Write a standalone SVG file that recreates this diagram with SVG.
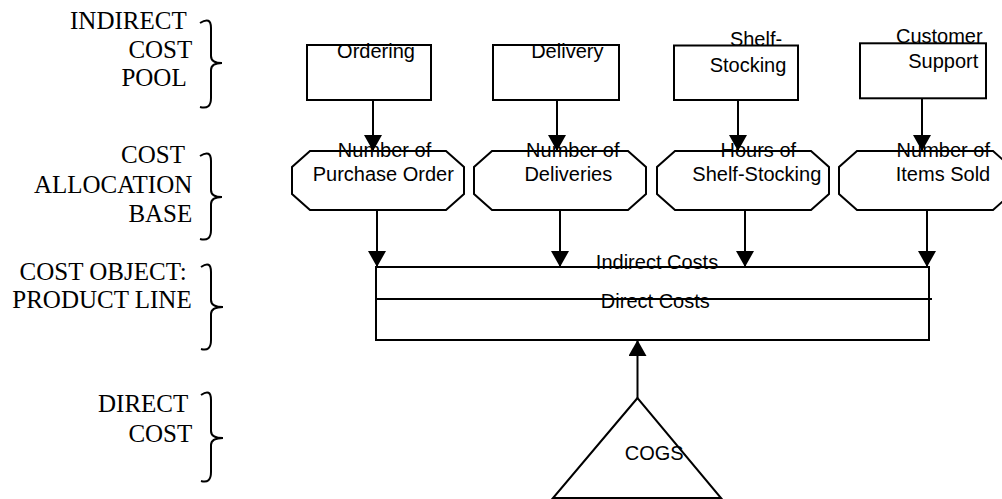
<svg xmlns="http://www.w3.org/2000/svg" width="1002" height="499" viewBox="0 0 1002 499">
<style>
.box{fill:#fff;stroke:#000;stroke-width:2}
.t{font-family:"Liberation Sans",Arial,sans-serif;font-size:20px;fill:#000;text-anchor:middle}
.lab{font-family:"Liberation Serif","Times New Roman",serif;font-size:25px;fill:#000;text-anchor:end}
.brace{fill:none;stroke:#000;stroke-width:2}
.conn{fill:none;stroke:#000;stroke-width:2}
</style>
<defs>
<marker id="arr" viewBox="0 0 16 18" refX="16" refY="9" markerWidth="16" markerHeight="18" markerUnits="userSpaceOnUse" orient="auto">
<path d="M0,0 L16,9 L0,18 Z" fill="#000"/>
</marker>
</defs>
<rect width="1002" height="499" fill="#fff"/>

<g id="labels">
<text class="lab" x="186.7" y="29.3">INDIRECT</text>
<text class="lab" x="192.3" y="58.3">COST</text>
<text class="lab" x="186.7" y="86">POOL</text>
<text class="lab" x="185" y="163.3">COST</text>
<text class="lab" x="192.3" y="193.3">ALLOCATION</text>
<text class="lab" x="192.3" y="221.7">BASE</text>
<text class="lab" x="186.7" y="280">COST OBJECT:</text>
<text class="lab" x="191.7" y="308.3">PRODUCT LINE</text>
<text class="lab" x="188.3" y="411.7">DIRECT</text>
<text class="lab" x="192.3" y="441.7">COST</text>
<path class="brace" d="M200,23 Q211,16 211,28 L211,56 Q211,63 222,63 Q211,63 211,70 L211,98 Q211,110 200,107"/>
<path class="brace" d="M200,156 Q211,149 211,161 L211,190 Q211,197 222,197 Q211,197 211,204 L211,230 Q211,242 200,239"/>
<path class="brace" d="M201,267 Q211,260 211,272 L211,300 Q211,307 223,307 Q211,307 211,314 L211,340 Q211,352 201,349"/>
<path class="brace" d="M201,395 Q211,388 211,400 L211,431 Q211,438 223,438 Q211,438 211,445 L211,472 Q211,484 201,481"/>
</g>

<g id="connectors">
<line class="conn" x1="373" y1="100" x2="373" y2="151" marker-end="url(#arr)"/>
<line class="conn" x1="557" y1="100" x2="557" y2="151" marker-end="url(#arr)"/>
<line class="conn" x1="738" y1="100" x2="738" y2="151" marker-end="url(#arr)"/>
<line class="conn" x1="922" y1="98" x2="922" y2="151" marker-end="url(#arr)"/>
<line class="conn" x1="377" y1="210" x2="377" y2="267" marker-end="url(#arr)"/>
<line class="conn" x1="560" y1="210" x2="560" y2="267" marker-end="url(#arr)"/>
<line class="conn" x1="745" y1="210" x2="745" y2="267" marker-end="url(#arr)"/>
<line class="conn" x1="927" y1="210" x2="927" y2="267" marker-end="url(#arr)"/>
<line class="conn" x1="637.5" y1="398" x2="637.5" y2="340" marker-end="url(#arr)"/>
</g>

<g id="ordering">
<rect class="box" x="307" y="45" width="124" height="55"/>
<text class="t" x="376" y="58.3">Ordering</text>
</g>
<g id="delivery">
<rect class="box" x="493" y="45" width="126" height="55"/>
<text class="t" x="567.3" y="58">Delivery</text>
</g>
<g id="shelf-stocking">
<rect class="box" x="674" y="45.5" width="124" height="54.5"/>
<text class="t" x="756" y="46">Shelf-</text>
<text class="t" x="748" y="71.7">Stocking</text>
</g>
<g id="customer-support">
<rect class="box" x="860" y="43.3" width="126" height="55"/>
<text class="t" x="939.3" y="42.7">Customer</text>
<text class="t" x="943.3" y="68.3">Support</text>
</g>

<g id="num-purchase-order">
<polygon class="box" points="310,151 446,151 464,167 464,194 446,210 310,210 292,194 292,167"/>
<text class="t" x="384.5" y="156.7">Number of</text>
<text class="t" x="383.3" y="181">Purchase Order</text>
</g>
<g id="num-deliveries">
<polygon class="box" points="492,151 628,151 646,167 646,194 628,210 492,210 474,194 474,167"/>
<text class="t" x="572.8" y="156.7">Number of</text>
<text class="t" x="568.3" y="181">Deliveries</text>
</g>
<g id="hours-shelf-stocking">
<polygon class="box" points="675,151 811,151 829,167 829,194 811,210 675,210 657,194 657,167"/>
<text class="t" x="758.3" y="156.7">Hours of</text>
<text class="t" x="756.8" y="181">Shelf-Stocking</text>
</g>
<g id="num-items-sold">
<polygon class="box" points="857,151 993,151 1011,167 1011,194 993,210 857,210 839,194 839,167"/>
<text class="t" x="943.3" y="156.7">Number of</text>
<text class="t" x="943" y="181">Items Sold</text>
</g>

<g id="product-line">
<rect class="box" x="376" y="267" width="553" height="73"/>
<line x1="376" y1="299" x2="932" y2="299" stroke="#000" stroke-width="2"/>
<text class="t" x="657" y="269">Indirect Costs</text>
<text class="t" x="655.3" y="307.8">Direct Costs</text>
</g>

<g id="cogs">
<polygon class="box" points="637.5,398 553,498 721,498"/>
<text class="t" x="654.2" y="460">COGS</text>
</g>
</svg>
